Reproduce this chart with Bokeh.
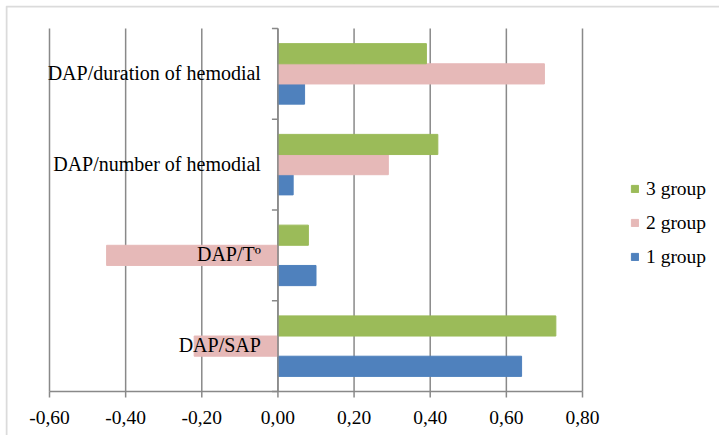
import math
from bokeh.plotting import figure
from bokeh.models import Range1d, Legend, LegendItem, BoxAnnotation, ColumnDataSource
from bokeh.transform import dodge
from bokeh.core.properties import value
from bokeh.embed import file_html
from bokeh.resources import INLINE

# Correlation coefficients per parameter pair (bottom to top) for each patient group
categories = ["DAP/SAP", "DAP/Tº", "DAP/number of hemodial", "DAP/duration of hemodial"]
group_1 = [0.64, 0.10, 0.04, 0.07]
group_2 = [-0.22, -0.45, 0.29, 0.70]
group_3 = [0.73, 0.08, 0.42, 0.39]
series_names = ["1 group", "2 group", "3 group"]
series_colors = ["#4F81BD", "#E6B9B8", "#9BBB59"]
x_ticks = [-0.6, -0.4, -0.2, 0.0, 0.2, 0.4, 0.6, 0.8]
x_tick_labels = ["-0,60", "-0,40", "-0,20", "0,00", "0,20", "0,40", "0,60", "0,80"]

FONT = "Liberation Serif"
GRAY = "#898989"
W, H = 719, 435

# pixel layout of the plotting area inside the chart box
FRAME_LEFT, FRAME_TOP = 5, 5
AREA_LEFT, AREA_RIGHT, AREA_TOP, AREA_BOTTOM = 49, 582, 28, 391

n_cat = len(categories)
kx = (x_ticks[-1] - x_ticks[0]) / (AREA_RIGHT - AREA_LEFT)
ky = n_cat / (AREA_BOTTOM - AREA_TOP)
x_start = x_ticks[0] - (AREA_LEFT - FRAME_LEFT) * kx
x_end = x_ticks[-1] + (W - AREA_RIGHT) * kx
y_start = -(H - AREA_BOTTOM) * ky
y_end = n_cat + (AREA_TOP - FRAME_TOP) * ky

src = ColumnDataSource(dict(cat=categories, g1=group_1, g2=group_2, g3=group_3,
                            center=[i + 0.5 for i in range(n_cat)],
                            zero=[0.0] * n_cat))

p = figure(width=W, height=H,
           x_range=Range1d(x_start, x_end), y_range=Range1d(y_start, y_end),
           x_axis_location=None, y_axis_location=None,
           output_backend="svg", toolbar_location=None,
           min_border=0, min_border_left=FRAME_LEFT, min_border_top=FRAME_TOP)
p.grid.visible = False
p.outline_line_color = None
p.background_fill_color = "white"
p.border_fill_color = "white"

# vertical gridlines spanning the category area
p.segment(x0=x_ticks, x1=x_ticks, y0=[0] * len(x_ticks), y1=[n_cat] * len(x_ticks),
          line_color=GRAY, line_width=1.5)

# clustered horizontal bars: 3 group on top, 1 group at the bottom of each category
bar_h = 1 / 4.5
offsets = [-bar_h, 0.0, bar_h]
renderers = []
for col, off, color in zip(["g1", "g2", "g3"], offsets, series_colors):
    r = p.hbar(y=dodge("center", off), left=0, right=col, height=bar_h,
               fill_color=color, line_color=color, source=src)
    renderers.append(r)

# value axis: line, outward ticks and comma-decimal labels
p.segment(x0=[x_ticks[0]], x1=[x_ticks[-1]], y0=[0], y1=[0], line_color=GRAY, line_width=1.5)
p.ray(x=x_ticks, y=[0] * len(x_ticks), length=6, length_units="screen",
      angle=-math.pi / 2, line_color=GRAY, line_width=1.5)
p.text(x=x_ticks, y=[0] * len(x_ticks), text=x_tick_labels, y_offset=26,
       text_align="center", text_baseline="alphabetic",
       text_font=value(FONT), text_font_size="19.5px", text_color="black")

# category axis at x = 0 with ticks on the category boundaries
bounds = list(range(n_cat + 1))
p.segment(x0=[0], x1=[0], y0=[0], y1=[n_cat], line_color=GRAY, line_width=1.5)
p.ray(x=[0] * len(bounds), y=bounds, length=6, length_units="screen",
      angle=math.pi, line_color=GRAY, line_width=1.5)

# category names sit next to the value axis at zero, over the bars
p.text(x="zero", y="center", text="cat", source=src, x_offset=-17, y_offset=-1,
       text_align="right", text_baseline="alphabetic",
       text_font=value(FONT), text_font_size="20px", text_color="black")

legend = Legend(items=[LegendItem(label=n, renderers=[r])
                       for n, r in reversed(list(zip(series_names, renderers)))],
                location=(625, 167), glyph_width=9, glyph_height=9, label_standoff=7,
                label_text_font=FONT, label_text_font_size="19.5px", label_text_color="black",
                label_height=23, spacing=11, padding=0, margin=0,
                border_line_color=None, background_fill_alpha=0)
p.add_layout(legend)

# chart border (left and top edges visible)
p.add_layout(BoxAnnotation(left=x_start + kx, right=x_end + 1, top=y_end - ky, bottom=y_start - 1,
                           fill_alpha=0, line_color=GRAY, line_width=2, level="overlay"))

open("out.html", "w").write(file_html(p, INLINE))
